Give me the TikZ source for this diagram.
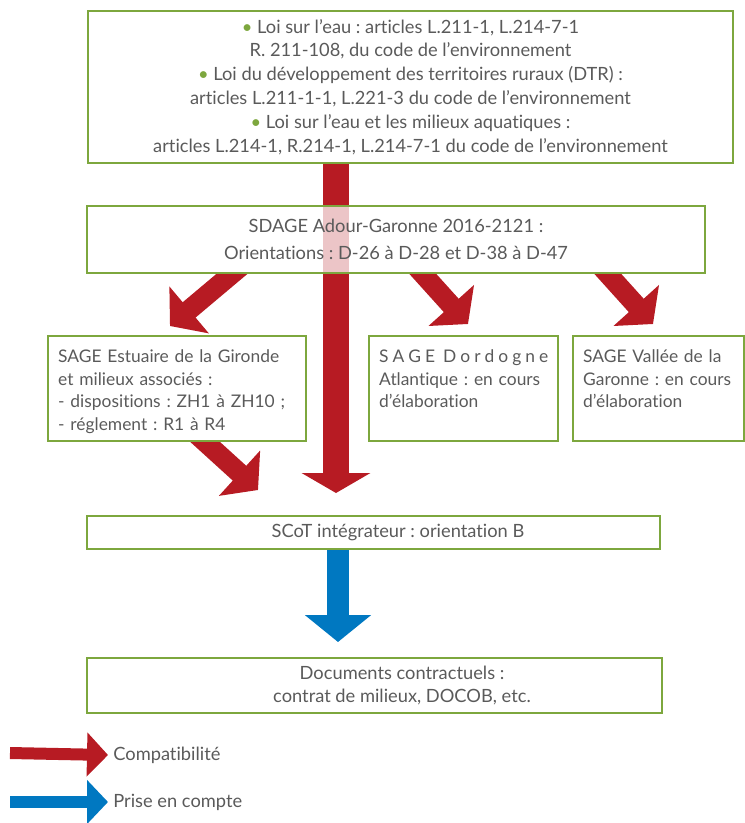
\documentclass[tikz,border=0pt]{standalone}
\usepackage{fontspec}
\setmainfont{Lato}[Ligatures=NoCommon]
\usetikzlibrary{arrows.meta,calc,backgrounds}

\definecolor{boxgreen}{HTML}{7DA73E}
\definecolor{arrowred}{HTML}{B71B23}
\definecolor{arrowblue}{HTML}{0078C1}
\definecolor{textgray}{HTML}{5A5A5A}

\newcommand{\puce}{{\color{boxgreen}\textbullet}\ }
\frenchspacing

\tikzset{
	box/.style={draw=boxgreen, line width=1.4pt, text=textgray, font=\fontsize{10.4pt}{13.6pt}\selectfont},
	sagebox/.style={box, anchor=north west, align=left, inner xsep=0.2cm, inner ysep=0.12cm,
		text height=0.4cm, text depth=1.46cm, font=\fontsize{9.9pt}{13pt}\selectfont},
	legende/.style={anchor=west, inner sep=0.1cm, text=textgray, font=\fontsize{10.4pt}{13.6pt}\selectfont},
	compat/.style={draw=arrowred, line width=0.4cm, -{Triangle[width=1.2cm,length=0.5cm]}},
	prise/.style={draw=arrowblue, line width=0.44cm, -{Triangle[width=1.3cm,length=0.54cm]}}
}

\begin{document}
\begin{tikzpicture}[x=0.02cm, y=-0.02cm]
		\useasboundingbox (0,0) rectangle (745,823);
		
		% cadres
		\node[box, minimum width=12.9cm, minimum height=3.04cm, align=center] (lois) at (410.5,87){\puce Loi sur l’eau : articles L.211-1, L.214-7-1\\
			R. 211-108, du code de l’environnement\\
			\puce Loi du développement des territoires ruraux (DTR) :\\
			articles L.211-1-1, L.221-3 du code de l’environnement\\
			\puce Loi sur l’eau et les milieux aquatiques :\\
			articles L.214-1, R.214-1, L.214-7-1 du code de l’environnement};
		\node[box, fill=white, fill opacity=0.75, text opacity=1, minimum width=12.36cm, minimum height=1.34cm, align=center,
			font=\fontsize{10.4pt}{15.3pt}\selectfont] (sdage) at (396,239.5){SDAGE Adour-Garonne 2016-2121 :\\
			Orientations : D-26 à D-28 et D-38 à D-47};
		
		\node[sagebox, text width=4.76cm] (sagea) at (47,335){\mbox{SAGE Estuaire de la Gironde}\\
			\mbox{et milieux associés :}\\
			\mbox{- dispositions : ZH1 à ZH10 ;}\\
			\mbox{- réglement : R1 à R4}};
		\node[sagebox, text width=3.38cm] (sageb) at (368,335){\makebox[3.38cm][s]{S\hfill A\hfill G\hfill E\hfill\hfill D\hfill o\hfill r\hfill d\hfill o\hfill g\hfill n\hfill e}\\
			\mbox{Atlantique : en cours}\\
			\mbox{d’élaboration}};
		\node[sagebox, text width=3.02cm] (sagec) at (572,335){\mbox{SAGE Vallée de la}\\
			\mbox{Garonne : en cours}\\
			\mbox{d’élaboration}};
		
		\node[box, minimum width=11.46cm, minimum height=0.66cm] (scot) at (373.5,532.5){\hspace*{0.98cm}SCoT intégrateur : orientation B};
		\node[box, minimum width=11.5cm, minimum height=1.1cm, align=center] (docs) at (374.5,685.5){\hspace*{1.1cm}Documents contractuels :\\
			\hspace*{1.1cm}contrat de milieux, DOCOB, etc.};
		
		% legende
		\node[legende] (legc) at (108,755){Compatibilité};
		\node[legende] (legp) at (108,802){Prise en compte};
		
		% pointes des fleches
		\coordinate (pc) at (336,493);
		\coordinate (pa) at (170,326);
		\coordinate (pb) at (468,324);
		\coordinate (pd) at (653,324);
		\coordinate (pe) at (258,490);
		\coordinate (pf) at (338,642);
		\coordinate (da) at (233,273);
		\coordinate (db) at (422,273);
		\coordinate (dd) at (607,273);
		\coordinate (de) at (203,440);
		\coordinate (lc) at (10,753);
		\coordinate (lp) at (10,802);
		
		\begin{scope}[on background layer]
			\draw[compat, line width=0.52cm, -{Triangle[width=1.36cm,length=0.4cm]}] (pc |- lois.south) -- (pc);
			\begin{scope}
				\clip (sdage.south west) rectangle (sagec.north east);
				\draw[compat] ($(pa)!1.3!(da)$) -- (pa);
				\draw[compat] ($(pb)!1.3!(db)$) -- (pb);
				\draw[compat] ($(pd)!1.3!(dd)$) -- (pd);
			\end{scope}
			\begin{scope}
				\clip (sagea.south west) rectangle (scot.north east);
				\draw[compat] ($(pe)!1.3!(de)$) -- (pe);
			\end{scope}
			\draw[prise] (pf |- scot.south) -- (pf);
		\end{scope}
		
		\draw[compat, line width=0.24cm, -{Triangle[width=0.86cm,length=0.42cm]}] (lc) -- (legc.west);
		\draw[prise, line width=0.24cm, -{Triangle[width=0.86cm,length=0.42cm]}] (lp) -- (legp.west);
	\end{tikzpicture}
\end{document}
